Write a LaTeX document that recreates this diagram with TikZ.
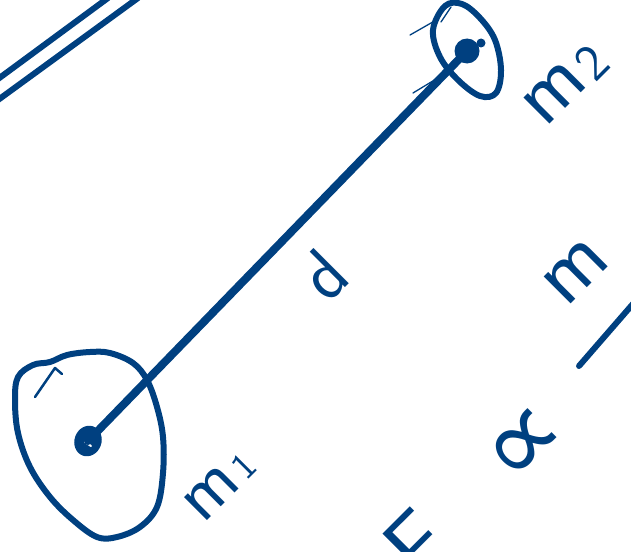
\documentclass[tikz,border=0pt]{standalone}
\usepackage{fontspec}
\newfontfamily\symfnt{DejaVu Sans}
\usetikzlibrary{shapes.geometric}
\definecolor{ink}{RGB}{0,64,128}
\tikzset{
  pen/.style={draw=ink, line width=6pt, line cap=round, line join=round},
  thinpen/.style={draw=ink, line width=1.3pt, line cap=round},
  lbl/.style={text=ink, inner sep=0pt, rotate=45},
}
\newcommand{\hfs}[1]{\sffamily\fontsize{#1}{#1}\selectfont}
\begin{document}
\begin{tikzpicture}[x=1pt,y=-1pt]
\useasboundingbox (0,0) rectangle (631,551);
\clip (0,0) rectangle (631,551);
% double lines top-left
\coordinate (a1) at (-2,79); \coordinate (a2) at (108,-2);
\coordinate (b1) at (-2,100); \coordinate (b2) at (138,-2);
\draw[pen] (a1) -- (a2);
\draw[pen] (b1) -- (b2);
% masses
\node[ellipse, fill=ink, minimum width=27pt, minimum height=31pt, inner sep=0pt, rotate=-20] (m1dot) at (88,441) {};
\node[circle, fill=ink, minimum size=25pt, inner sep=0pt] (m2dot) at (467,51) {};
\fill[ink] (481,43) circle (4.5);
\draw[white, line width=2pt, line cap=round] (85,442) -- (91,446);
% rod
\draw[pen, line width=8pt] (m1dot.center) -- (m2dot.center);
% m1 orbit
\draw[pen] plot[smooth cycle, tension=0.6] coordinates {(33,365) (50,362) (67,355) (90,352) (110,353) (133,363) (147,380) (157,407) (163,437) (163,473) (157,507) (140,527) (117,537) (97,537) (73,520) (50,497) (30,467) (18,433) (15,400) (18,377)};
\draw[pen, line width=2.5pt] (35,397) -- (55,368) -- (62,374);
% m2 orbit
\draw[pen] plot[smooth cycle, tension=0.6] coordinates {(433,30) (445,6) (462,4) (480,18) (495,40) (501,70) (496,93) (480,96) (458,80) (440,57)};
\draw[thinpen] (410,35) -- (438,19);
\draw[thinpen] (441,22) -- (451,7);
\draw[thinpen] (413,93) -- (446,73);
% labels
\node[lbl] (m1lab) at (220,485) {\hfs{75}m\kern5pt{\hfs{38}1}};
\node[lbl] (m2lab) at (566,84) {\hfs{85}m\kern4pt\raisebox{-4pt}{\hfs{52}2}};
\node[lbl] (dlab) at (323,275) {\hfs{72}d};
\node[lbl] (prop) at (527,447) {\symfnt\fontsize{110}{110}\selectfont ∝};
\node[lbl, anchor=north west] (F) at (377,540) {\hfs{95}F};
\node[lbl] (mnum) at (576,272) {\hfs{88}m};
\coordinate (bar1) at (579,366); \coordinate (bar2) at (645,290);
\draw[pen] (bar1) -- (bar2);
\end{tikzpicture}
\end{document}
